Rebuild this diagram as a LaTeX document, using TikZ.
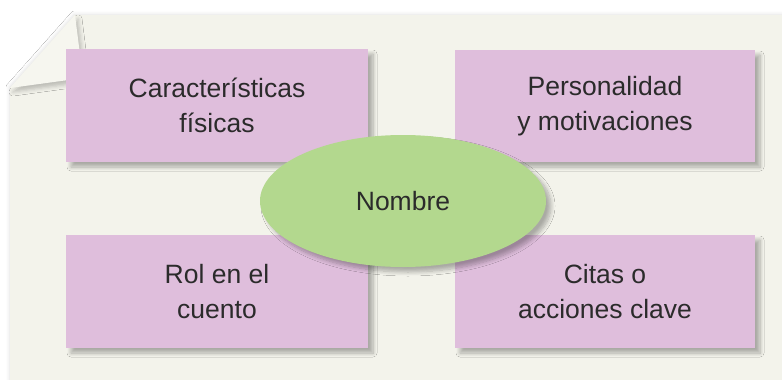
\documentclass[tikz,border=0pt]{standalone}
\usepackage{fontspec}
\setmainfont{Liberation Sans}
\usetikzlibrary{shapes.geometric,shadows.blur}
\definecolor{paper}{HTML}{F3F3EB}
\definecolor{flap}{HTML}{F6F6EF}
\definecolor{boxfill}{HTML}{DFBEDC}
\definecolor{ovalfill}{HTML}{B3D88E}
\definecolor{ink}{HTML}{2B2B2B}
\tikzset{
  softshadow/.style={blur shadow={shadow xshift=5pt, shadow yshift=-5pt,
    shadow blur radius=4pt, shadow opacity=30, shadow blur steps=8}},
  infobox/.style={rectangle, fill=boxfill, inner sep=0pt, align=center,
    text=ink, font=\fontsize{26.5}{35}\selectfont, softshadow},
  oval/.style={ellipse, fill=ovalfill, inner sep=0pt, text=ink,
    font=\fontsize{26.5}{35}\selectfont, softshadow},
}
\begin{document}
% coordinates: x = pixel column, y = minus pixel row
\begin{tikzpicture}[x=1pt,y=1pt]
\useasboundingbox (0,-380) rectangle (782,0);
\fill[white] (0,-380) rectangle (782,0);
% paper sheet with folded corner
\fill[paper, blur shadow={shadow xshift=-1pt, shadow yshift=1pt, shadow blur radius=3pt, shadow opacity=10}]
  (75,-15) -- (800,-15) -- (800,-400) -- (10,-400) -- (10,-88) -- cycle;
% folded flap
\fill[flap, blur shadow={shadow xshift=3pt, shadow yshift=-4pt, shadow blur radius=4pt, shadow opacity=22}]
  (75,-15) -- (10,-88) -- (83,-78) -- cycle;
% boxes
\node[infobox, minimum width=302pt, minimum height=113pt] (fis) at (217,-105.5) {Características\\físicas};
\node[infobox, minimum width=300pt, minimum height=112pt] (per) at (605,-106) {Personalidad\\y motivaciones};
\node[infobox, minimum width=302pt, minimum height=113pt] (rol) at (217,-291.5) {Rol en el\\cuento};
\node[infobox, minimum width=300pt, minimum height=113pt] (cit) at (605,-291.5) {Citas o\\acciones clave};
% central ellipse
\node[oval, minimum width=286pt, minimum height=132pt] (nom) at (403,-201) {Nombre};
\end{tikzpicture}
\end{document}
